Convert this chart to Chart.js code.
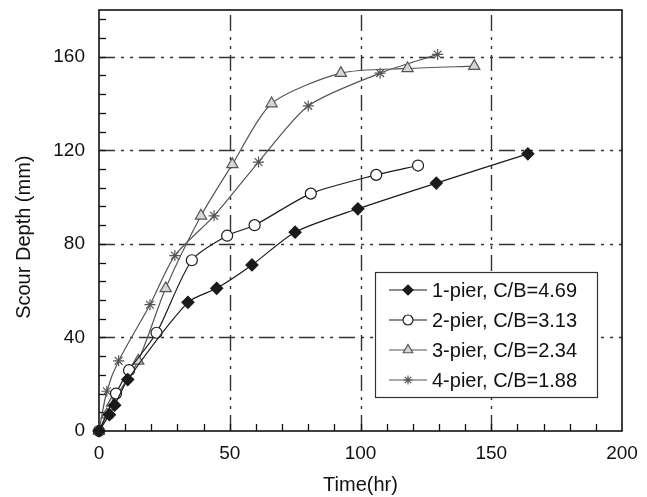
<!DOCTYPE html>
<html>
<head>
<meta charset="utf-8">
<script src="https://cdn.jsdelivr.net/npm/chart.js@4.4.1/dist/chart.umd.min.js"></script>
<style>
  html, body { margin: 0; padding: 0; background: #fff; }
  #wrap { width: 647px; height: 497px; }
</style>
</head>
<body>
<div id="wrap"><canvas id="c" width="647" height="497"></canvas></div>
<script>
// ---- data ----
const seriesLabels = ['1-pier, C/B=4.69', '2-pier, C/B=3.13', '3-pier, C/B=2.34', '4-pier, C/B=1.88'];

const pier1Time  = [0, 4, 6, 11, 34, 45, 58.5, 75, 99, 129, 164];
const pier1Depth = [0, 7, 11, 22, 55, 61, 71, 85, 95, 106, 118.5];

const pier2Time  = [0, 6.5, 11.5, 22, 35.5, 49, 59.5, 81, 106, 122];
const pier2Depth = [0, 16, 26, 42, 73, 83.5, 88, 101.5, 109.5, 113.5];

const pier3Time  = [0, 3, 5, 15, 25.5, 39, 51, 66, 92.5, 118, 143.5];
const pier3Depth = [0, 7, 12, 30, 61, 92, 114, 140, 153, 155, 156];

const pier4Time  = [0, 3, 7.5, 19.5, 29, 44, 61, 80, 107.5, 129.5];
const pier4Depth = [0, 17, 30, 54, 75, 92, 115, 139, 153, 161];

const xTickLabels = [0, 50, 100, 150, 200];
const yTickLabels = [0, 40, 80, 120, 160];

const FONT = "'Liberation Sans', Arial, sans-serif";

function pts(xs, ys) { return xs.map((x, i) => ({ x: x, y: ys[i] })); }

const styles = [
  { line: '#1a1a1a', fill: '#1a1a1a', border: '#1a1a1a', shape: 'rectRot', r: 6, lr: 5 },
  { line: '#1a1a1a', fill: '#ffffff', border: '#1a1a1a', shape: 'circle', r: 5.5, lr: 5 },
  { line: '#555555', fill: '#d6d6d6', border: '#555555', shape: 'triangle', r: 6.5, lr: 5.5 },
  { line: '#555555', fill: '#555555', border: '#555555', shape: 'star', r: 5.5, lr: 4.5 }
];

const allData = [pts(pier1Time, pier1Depth), pts(pier2Time, pier2Depth), pts(pier3Time, pier3Depth), pts(pier4Time, pier4Depth)];

const datasets = allData.map((d, i) => ({
  label: seriesLabels[i],
  data: d,
  borderColor: styles[i].line,
  borderWidth: 1.2,
  backgroundColor: styles[i].fill,
  pointStyle: styles[i].shape,
  pointRadius: styles[i].r,
  pointHoverRadius: styles[i].r,
  pointBackgroundColor: styles[i].fill,
  pointBorderColor: styles[i].border,
  pointBorderWidth: 1.2,
  tension: 0.25,
  clip: false
}));

const framePlugin = {
  id: 'frame',
  beforeDatasetsDraw(chart) {
    const { ctx, chartArea: a, scales: { x, y } } = chart;
    ctx.save();
    // dash-dot grid
    ctx.strokeStyle = '#333';
    ctx.lineWidth = 1.4;
    ctx.setLineDash([16, 6, 3, 6, 3, 6]);
    [50, 100, 150].forEach(v => {
      const px = Math.round(x.getPixelForValue(v)) + 0.5;
      ctx.beginPath(); ctx.moveTo(px, a.bottom); ctx.lineTo(px, a.top); ctx.stroke();
    });
    [40, 80, 120, 160].forEach(v => {
      const py = Math.round(y.getPixelForValue(v)) + 0.5;
      ctx.beginPath(); ctx.moveTo(a.left, py); ctx.lineTo(a.right, py); ctx.stroke();
    });
    ctx.setLineDash([]);
    // inward ticks
    ctx.strokeStyle = '#111';
    ctx.lineWidth = 1.3;
    for (let v = 10; v < 200; v += 10) {
      const px = Math.round(x.getPixelForValue(v)) + 0.5;
      ctx.beginPath(); ctx.moveTo(px, a.bottom); ctx.lineTo(px, a.bottom - 7); ctx.stroke();
    }
    for (let v = 8; v < 180; v += 8) {
      const py = Math.round(y.getPixelForValue(v)) + 0.5;
      ctx.beginPath(); ctx.moveTo(a.left, py); ctx.lineTo(a.left + 7, py); ctx.stroke();
    }
    // frame
    ctx.lineWidth = 1.6;
    ctx.strokeStyle = '#111';
    ctx.strokeRect(a.left, a.top, a.right - a.left, a.bottom - a.top);
    ctx.restore();
  }
};

const legendPlugin = {
  id: 'boxLegend',
  afterDatasetsDraw(chart) {
    const { ctx } = chart;
    const bx = 375, by = 272, bw = 222, bh = 125;
    ctx.save();
    ctx.fillStyle = '#fff';
    ctx.fillRect(bx, by, bw, bh);
    ctx.strokeStyle = '#333';
    ctx.lineWidth = 1.2;
    ctx.strokeRect(bx + 0.5, by + 0.5, bw, bh);
    chart.data.datasets.forEach((ds, i) => {
      const st = styles[i];
      const yy = by + 18 + i * 30;
      ctx.strokeStyle = st.line;
      ctx.lineWidth = 1.2;
      ctx.beginPath(); ctx.moveTo(389, yy); ctx.lineTo(427, yy); ctx.stroke();
      ctx.fillStyle = st.fill;
      ctx.strokeStyle = st.border;
      Chart.helpers.drawPoint(ctx, { pointStyle: st.shape, radius: st.lr, rotation: 0, borderWidth: 1.2 }, 408, yy);
      ctx.fillStyle = '#111';
      ctx.font = '20px ' + FONT;
      ctx.textBaseline = 'middle';
      ctx.textAlign = 'left';
      ctx.fillText(ds.label, 432, yy + 1);
    });
    ctx.restore();
  }
};

new Chart(document.getElementById('c'), {
  type: 'line',
  data: { datasets: datasets },
  options: {
    responsive: false,
    animation: false,
    devicePixelRatio: 1,
    layout: { padding: { left: 0, right: 25, top: 10, bottom: 0 } },
    plugins: { legend: { display: false }, tooltip: { enabled: false } },
    scales: {
      x: {
        type: 'linear', min: 0, max: 200,
        grid: { display: false, drawTicks: false },
        border: { display: false },
        ticks: {
          stepSize: 10, autoSkip: false, maxRotation: 0, padding: 11,
          color: '#111', font: { family: FONT, size: 19 },
          callback: v => (xTickLabels.includes(v) ? String(v) : '')
        },
        title: { display: true, text: 'Time(hr)', color: '#111', font: { family: FONT, size: 20 }, padding: { top: 0, bottom: 0 } },
        afterFit: s => { s.height = 66; s.paddingLeft = 0; s.paddingRight = 0; }
      },
      y: {
        type: 'linear', min: 0, max: 180,
        grid: { display: false, drawTicks: false },
        border: { display: false },
        ticks: {
          stepSize: 8, autoSkip: false, padding: 14,
          color: '#111', font: { family: FONT, size: 19 },
          callback: v => (yTickLabels.includes(v) ? String(v) : '')
        },
        title: { display: true, text: 'Scour Depth (mm)\u00a0\u00a0\u00a0\u00a0\u00a0\u00a0', color: '#111', font: { family: FONT, size: 20 }, padding: { top: 12, bottom: 0 } },
        afterFit: s => { s.width = 99; s.paddingTop = 0; s.paddingBottom = 0; }
      }
    }
  },
  plugins: [framePlugin, legendPlugin]
});
</script>
</body>
</html>
